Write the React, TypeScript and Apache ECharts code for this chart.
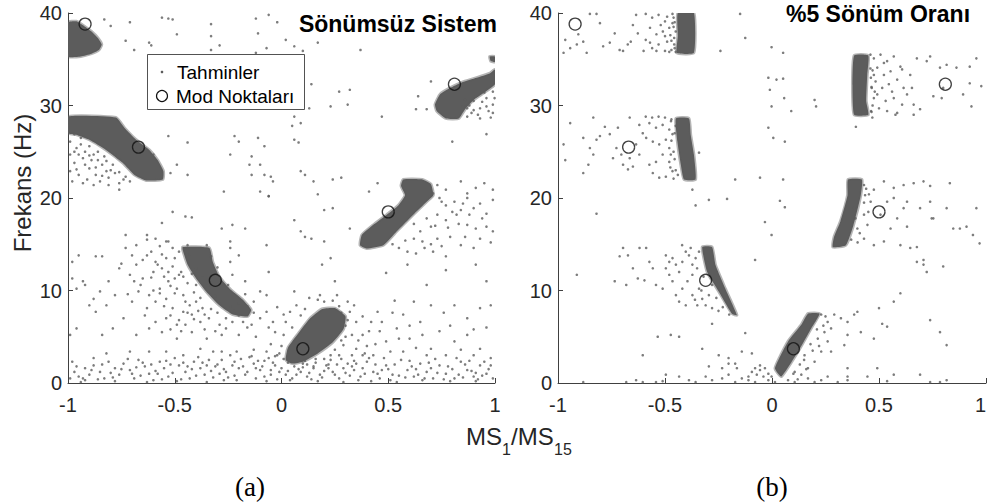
import React, { useEffect, useRef } from "react";
import * as echarts from "echarts";

// ---------- Data ----------
const xTicks = [-1, -0.5, 0, 0.5, 1];
const yTicks = [0, 10, 20, 30, 40];

// Mode points (same in both panels)
const modePoints: number[][] = [
  [-0.92, 38.8], [-0.67, 25.5], [0.81, 32.3], [0.5, 18.5], [-0.31, 11.1], [0.1, 3.7],
];

// Left panel (undamped) – dense clusters (outline of solid point clouds)
const leftBlobA = [[-1, 39.0], [-0.96, 39.1], [-0.925, 38.6], [-0.89, 38.0], [-0.86, 37.3], [-0.842, 36.6], [-0.855, 36.0], [-0.89, 35.6], [-0.94, 35.3], [-1, 35.3]];
const leftBlobB = [[-1, 28.8], [-0.775, 28.7], [-0.736, 27.6], [-0.681, 26.3], [-0.619, 25.2], [-0.58, 24.1], [-0.553, 22.9], [-0.556, 22.0], [-0.634, 21.9], [-0.689, 22.5], [-0.744, 23.8], [-0.822, 25.2], [-0.9, 26.3], [-0.962, 26.85], [-1, 27.0]];
const leftBlobC = [[0.719, 30.1], [0.742, 31.2], [0.789, 31.9], [0.844, 32.5], [0.914, 33.0], [0.977, 33.5], [1, 33.9], [1, 32.3], [0.95, 31.4], [0.9, 30.6], [0.86, 29.6], [0.83, 28.6], [0.77, 28.6], [0.727, 29.4]];
const leftBlobC2 = [[0.975, 35.3], [1, 35.3], [1, 34.7], [0.98, 34.8]];
const leftBlobD = [[0.368, 14.9], [0.376, 16.0], [0.43, 17.1], [0.493, 18.2], [0.547, 19.2], [0.579, 20.3], [0.56, 21.3], [0.57, 22.0], [0.66, 22.0], [0.7, 21.5], [0.711, 20.3], [0.68, 19.6], [0.617, 18.2], [0.54, 16.4], [0.477, 14.9], [0.399, 14.55]];
const leftBlobE = [[-0.463, 14.7], [-0.338, 14.6], [-0.322, 13.1], [-0.291, 11.5], [-0.236, 10.05], [-0.181, 9.0], [-0.142, 7.9], [-0.158, 7.2], [-0.228, 7.4], [-0.291, 8.4], [-0.353, 9.9], [-0.4, 11.3], [-0.439, 12.75], [-0.463, 14.4]];
const leftBlobF = [[0.02, 2.5], [0.03, 3.8], [0.08, 5.4], [0.13, 6.9], [0.19, 8.0], [0.25, 8.1], [0.3, 7.2], [0.29, 5.8], [0.24, 4.4], [0.17, 3.2], [0.1, 2.3], [0.05, 2.1]];

// Left panel – scattered estimates
const leftTopPts = [[-0.83,39.3],[-0.8,38.6],[-0.71,39.0],[-0.73,37.0],[-0.69,36.0],[-0.62,36.8],[-0.61,36.5],[-0.56,39.5],[-0.53,39.4],[-0.51,39.3],[-0.49,37.7],[-0.33,38.8],[-0.33,37.5],[-0.33,36.0],[-0.29,36.5],[-0.11,37.8],[-0.12,39.4],[-0.06,39.8],[-0.02,39.0],[-0.07,36.2],[-0.12,35.7],
[0.02,37.1],[0.06,36.4],[0.1,35.9],[0.17,36.8],[0.37,36.0],[0.14,32.3],[0.27,31.5],[0.32,31.7],[0.31,30.1],[0.23,29.9],[0.13,29.7],[0.47,28.8],[0.06,28.8],[0.09,28.1],[0.05,27.8],[0.06,26.3],[0.08,26.0],[0.64,31.0],[0.7,32.6],[0.63,29.6],[0.68,29.6],[0.8,26.1],[0.96,26.9],[0.09,22.9],[0.11,22.5],[0.15,21.8],[0.24,22.0],[0.28,22.2],[0.45,21.6],[0.41,20.7],[0.17,20.4]];
const leftBPts = [[-0.99,26.1],[-0.96,25.4],[-0.99,24.7],[-0.94,25.8],[-0.92,25.0],[-0.97,23.8],[-0.93,24.3],[-0.88,24.7],[-0.86,24.1],[-0.9,23.2],[-0.95,22.5],[-0.98,21.8],[-0.87,22.5],[-0.84,23.6],[-0.82,22.9],[-0.85,21.8],[-0.81,22.2],[-0.79,23.6],[-0.78,22.7],[-0.76,21.6],[-0.91,22.0],[-0.88,21.4],[-0.73,22.3],[-0.83,24.5],[-0.78,24.7],[-0.95,24.7],[-0.92,23.6],[-0.99,22.9],[-0.89,24.1],[-0.81,21.4],
[-0.97,26.9],[-0.94,26.5],[-0.9,25.6],[-0.86,25.0],[-0.82,24.0],[-0.8,23.0],[-0.76,22.8],[-0.74,22.0],[-0.71,21.8],[-0.96,23.1],[-0.93,21.6],[-0.87,23.3],[-0.84,22.4],[-0.9,24.6],[-0.97,25.0],
[-0.53,26.7],[-0.44,26.0],[-0.6,24.7],[-0.49,23.6],[-0.52,22.7],[-0.44,22.5],[-0.24,24.7],[-0.22,26.7],[-0.2,26.1],[-0.11,26.5],[-0.08,25.6],[-0.14,24.5],[-0.15,23.6],[-0.1,23.6],[-0.14,22.5],[-0.08,22.5],[-0.05,22.3],[-0.04,21.8],[-0.27,20.7],[-0.1,20.7],[-0.06,20.2],[-0.76,20.9]];
const leftCPts = [[0.87,29.7],[0.9,30.5],[0.93,29.7],[0.96,30.8],[0.99,30.1],[0.92,29.0],[0.97,29.4],[0.89,29.2],[0.95,31.4],[0.99,31.5],[0.87,28.8],[0.91,31.0],[0.85,29.9],[0.98,28.7],[0.998,30.8],
[0.88,30.0],[0.94,30.4],[0.9,29.5],[0.96,29.9],[0.82,28.7],[0.86,30.6],[0.99,29.2],[0.93,28.6]];
const leftDPts = [[0.74,20.0],[0.77,19.2],[0.81,19.6],[0.84,18.7],[0.87,20.0],[0.9,18.9],[0.93,19.4],[0.96,18.3],[0.99,19.8],[0.73,18.2],[0.77,17.6],[0.82,18.2],[0.87,17.1],[0.91,16.7],[0.96,16.9],[0.99,16.4],[0.7,16.9],[0.65,16.4],[0.62,15.6],[0.66,15.3],[0.73,15.6],[0.79,15.8],[0.84,14.9],[0.9,14.6],[0.93,15.6],[0.59,14.2],[0.63,14.0],[0.71,14.2],[0.77,13.7],[0.59,12.8],[0.77,12.2],[0.91,12.8],[0.96,11.0],[0.68,10.6],[0.49,11.9],[0.23,13.5],[0.2,15.3],[0.11,15.8],[0.09,16.4],[0.06,17.6],[0.14,15.6],[0.19,12.8],[0.25,11.0],[0.32,16.7],[0.24,18.9],[0.2,18.7],[0.06,9.9],
[0.73,21.4],[0.77,20.9],[0.84,21.8],[0.87,20.5],[0.91,21.1],[0.95,21.6],[0.99,20.9],[0.71,20.5],
[0.75,19.6],[0.8,18.5],[0.85,19.4],[0.78,16.8],[0.83,17.2],[0.88,18.2],[0.72,17.0],[0.68,17.8],[0.7,15.0],[0.75,14.8],[0.86,15.8],[0.94,17.8],[0.98,15.2],[0.67,14.6],[0.62,17.2],[0.58,15.4],[0.55,14.6],[0.52,15.0]];
const leftFPts = [[0.01,5.2],[0.02,6.6],[0.04,7.7],[0.07,8.4],[0.13,9.2],[0.18,9.5],[0.26,9.5],[0.31,8.8],[0.32,7.7],[0.35,6.6],[0.33,5.2],[0.29,4.1],[0.27,3.0],[0.35,3.7],[0.38,5.2],[0.42,6.6],[0.45,7.7],[0.46,5.6],[0.49,4.5],[0.54,5.9],[0.57,7.4],[0.43,3.0],[0.51,3.4],[0.6,4.8],[0.65,6.6],[0.7,8.4],[0.81,8.4],[0.87,7.0],[0.93,8.1],[0.98,8.4],[0.74,5.6],[0.81,4.5],[0.87,5.2],[0.93,3.7],[0.7,3.7],
[0.0,4.0],[0.05,6.0],[0.09,7.3],[0.2,8.8],[0.24,8.9],[0.3,6.2],[0.3,5.0],[0.25,3.6],[0.2,2.6],[0.12,2.0],[0.03,2.2],[-0.02,3.0],[0.36,4.6],[0.39,3.2],[0.28,7.6],[0.33,3.0],[0.4,4.0],[0.15,1.8],[0.22,2.0],[0.34,2.4],
[0.27,8.3],[0.31,6.8],[0.28,4.6],[0.23,3.0],[0.16,2.6],[0.11,8.0],[0.17,9.0],[0.34,8.4],[0.38,7.2],[0.41,5.6],[0.44,4.2],[0.47,6.6],[0.52,7.6],[0.55,4.8],[0.6,6.2],[0.63,3.8],[0.66,5.2],[0.76,7.6],[0.79,6.2],[0.84,3.6],[0.9,5.8],[0.96,6.0],[0.62,8.8],[0.53,8.9],[-0.03,5.5],[-0.05,4.2],[0.01,7.4]];
const leftBottomPts = [[0.0,1.6],[0.02,0.9],[0.06,1.8],[0.09,1.2],[0.12,0.7],[0.15,1.6],[0.18,0.9],[0.21,1.9],[0.24,1.2],[0.27,0.5],[0.31,2.1],[0.34,1.4],[0.37,0.7],[0.4,2.3],[0.43,1.2],[0.46,0.5],[0.49,1.9],[0.52,0.9],[0.56,2.5],[0.59,1.4],[0.62,0.7],[0.65,2.1],[0.68,1.2],[0.71,0.5],[0.74,1.9],[0.77,1.0],[0.81,0.5],[0.84,2.3],[0.87,1.4],[0.9,0.7],[0.93,1.9],[0.96,1.0],[0.99,0.5],[0.04,0.3],[0.17,0.2],[0.29,0.1],[0.42,0.2],[0.54,0.1],[0.66,0.3],[0.79,0.2],[0.91,0.2],[0.38,3.0],[0.48,2.7],[0.57,3.4],[0.68,3.0],[0.77,3.0],[0.9,3.0],[0.98,2.7],[0.23,2.5],[0.1,2.1],
[0.05,0.5],[0.08,1.5],[0.11,2.4],[0.14,0.4],[0.2,1.3],[0.26,2.0],[0.29,1.6],[0.32,0.8],[0.35,2.1],[0.39,1.0],[0.44,2.0],[0.47,1.4],[0.51,0.3],[0.53,2.0],[0.58,0.6],[0.61,1.8],[0.64,0.9],[0.7,1.6],[0.72,2.6],[0.76,0.4],[0.8,1.5],[0.83,0.9],[0.86,2.0],[0.89,1.3],[0.92,0.4],[0.95,2.3],[0.97,1.5],
[-0.99,0.5],[-0.97,1.2],[-0.95,0.7],[-0.92,1.6],[-0.9,0.9],[-0.88,1.9],[-0.85,1.2],[-0.83,0.5],[-0.81,2.3],[-0.78,1.6],[-0.76,0.9],[-0.74,2.1],[-0.71,1.4],[-0.69,0.5],[-0.67,2.5],[-0.64,1.8],[-0.62,1.0],[-0.6,0.3],[-0.57,2.3],[-0.55,1.6],[-0.53,0.7],[-0.5,2.7],[-0.48,1.9],[-0.45,1.2],[-0.43,0.5],[-0.41,2.3],[-0.38,1.6],[-0.36,0.9],[-0.34,2.5],[-0.31,1.8],[-0.29,1.0],[-0.27,0.3],[-0.24,3.0],[-0.22,2.3],[-0.2,1.6],[-0.17,0.9],[-0.15,2.8],[-0.13,2.1],[-0.1,1.4],[-0.08,0.7],[-0.06,2.7],[-0.03,1.9],[-0.01,1.2],[-0.28,3.4],[-0.21,3.4],[-0.13,3.6],[-0.07,3.4],[-0.01,3.2],[-0.54,3.4],[-0.62,3.4],[-0.88,2.7],[-0.92,0.3],[-0.78,0.2],[-0.63,0.1],[-0.49,0.2],[-0.35,0.1],[-0.21,0.3],[-0.07,0.2],[-0.94,0.1],[-0.82,3.2],[-0.98,2.3],
[-0.47,0.4],[-0.44,1.8],[-0.4,0.8],[-0.37,2.2],[-0.33,1.3],[-0.3,2.0],[-0.27,1.5],[-0.25,0.6],[-0.23,1.9],[-0.19,2.6],[-0.16,1.2],[-0.12,0.5],[-0.11,2.4],[-0.09,1.8],[-0.05,0.9],[-0.04,2.2],[-0.02,0.4],[-0.58,1.0],[-0.52,2.0],[-0.65,2.2],[-0.7,1.0],[-0.8,1.1],[-0.86,0.4],
[-0.96,1.8],[-0.93,0.5],[-0.89,1.4],[-0.84,2.0],[-0.79,0.6],[-0.75,1.5],[-0.72,2.6],[-0.68,1.7],[-0.66,0.8],[-0.61,2.0],[-0.59,1.3],[-0.56,0.4],[-0.54,2.4],[-0.51,1.1],[-0.46,2.2],[-0.42,1.5],[-0.39,2.8],[-0.35,1.9],[-0.32,0.6],[-0.28,2.5],[-0.26,1.2],[-0.22,0.8],[-0.18,1.8],[-0.14,2.9],[-0.12,1.6],[-0.08,2.4],[-0.05,1.4],[-0.03,2.9],[0.01,2.6],[0.03,1.3],[0.07,0.9],[0.1,1.7],[0.13,1.1],[0.16,2.2],[0.19,0.6],[0.22,1.6],[0.25,0.9],[0.28,2.6],[0.3,1.1],[0.33,1.8],[0.36,0.3],[0.38,1.6],[0.41,2.7],[0.45,1.0],[0.5,1.5],[0.55,0.8],[0.6,2.4],[0.63,1.5],[0.67,0.5],[0.69,2.2],[0.73,1.1],[0.78,1.8],[0.82,2.7],[0.85,0.6],[0.88,2.4],[0.91,1.1],[0.94,0.8],[0.98,1.9]];
const leftEPts = [[-0.73,14.6],[-0.68,14.9],[-0.63,15.5],[-0.59,15.6],[-0.54,15.3],[-0.51,14.6],[-0.54,13.5],[-0.59,13.1],[-0.63,13.8],[-0.68,12.8],[-0.71,11.7],[-0.65,11.3],[-0.6,12.0],[-0.56,12.4],[-0.51,12.6],[-0.48,11.7],[-0.53,11.0],[-0.57,10.2],[-0.62,9.5],[-0.67,9.9],[-0.7,8.8],[-0.63,8.1],[-0.59,8.8],[-0.54,9.1],[-0.49,10.2],[-0.46,9.5],[-0.43,8.4],[-0.4,8.8],[-0.37,8.1],[-0.42,7.4],[-0.46,7.7],[-0.51,8.1],[-0.54,7.0],[-0.59,6.6],[-0.62,5.9],[-0.56,5.5],[-0.49,6.3],[-0.45,6.3],[-0.38,6.6],[-0.34,7.0],[-0.29,6.3],[-0.23,6.6],[-0.18,6.6],[-0.14,6.3],[-0.1,7.0],[-0.07,7.7],[-0.04,6.6],[-0.2,5.2],[-0.28,5.2],[-0.35,4.8],[-0.42,5.5],[-0.49,4.8],[-0.32,3.4],[-0.38,3.7],[-0.46,3.0],[-0.76,12.4],[-0.81,11.0],[-0.85,9.9],[-0.88,9.1],[-0.78,9.5],[-0.82,8.4],[-0.87,7.7],[-0.74,7.0],[-0.79,5.9],[-0.84,5.2],[-0.92,10.6],[-0.96,10.2],[-0.98,13.1],[-0.95,13.8],[-0.87,13.7],[-0.84,13.7],[-0.93,11.0],[-0.98,11.3],[-0.9,8.4],[-0.99,5.2],[-0.96,5.9],[-0.7,13.8],[-0.73,16.0],[-0.63,16.0],[-0.53,15.3],[-0.24,14.6],[-0.2,13.8],[-0.24,13.1],[-0.07,14.9],[-0.06,12.0],[-0.17,11.0],[-0.1,9.9],[-0.07,9.5],[-0.23,11.7],[-0.28,16.7],[-0.24,15.3],[-0.17,16.7],[-0.23,17.1],[-0.51,18.5],[-0.45,18.0],[-0.42,17.9],[-0.56,17.3],[-0.06,20.2],[-0.68,5.2],[-0.71,3.4],
[-0.5,13.5],[-0.47,12.0],[-0.44,10.8],[-0.41,9.8],[-0.38,9.2],[-0.33,8.0],[-0.3,7.6],[-0.26,7.0],[-0.2,7.3],[-0.16,8.3],[-0.25,10.6],[-0.3,12.5],[-0.33,13.7],[-0.35,14.9],[-0.44,14.9],[-0.48,14.2],[-0.52,10.5],[-0.45,8.8],[-0.36,7.4],[-0.4,10.6],[-0.55,11.5],[-0.58,12.8],[-0.5,9.7],[-0.42,11.8],
[-0.66,10.6],[-0.61,11.4],[-0.57,9.7],[-0.64,7.3],[-0.6,10.0],[-0.55,8.3],[-0.52,7.3],[-0.48,6.8],[-0.44,7.6],[-0.41,6.9],[-0.39,7.8],[-0.47,5.6],[-0.52,5.8],[-0.36,5.8],[-0.31,5.6],[-0.26,5.9],[-0.22,7.8],[-0.13,7.6],[-0.72,9.6],[-0.75,12.9],[-0.69,11.0],[-0.65,13.3],[-0.61,14.2],[-0.57,14.8],[-0.46,11.5],[-0.5,11.3],[-0.53,12.0],[-0.56,13.9],[-0.43,13.9],[-0.4,12.4],[-0.37,11.4],[-0.34,10.6],[-0.31,9.4],[-0.28,8.6],[-0.24,8.3],[-0.2,8.6],[-0.17,9.6],[-0.13,8.8],[-0.16,6.0],[-0.12,5.0],[-0.06,6.0],[-0.02,8.2]];

// Right panel (5% damping) – dense clusters
const rightBlobA = [[-0.44, 40], [-0.365, 40], [-0.365, 35.7], [-0.445, 35.7], [-0.44, 37.5]];
const rightBlobB = [[-0.449, 28.6], [-0.388, 28.6], [-0.38, 26.85], [-0.365, 24.7], [-0.357, 22.0], [-0.411, 22.0], [-0.426, 23.6], [-0.442, 26.1]];
const rightBlobC = [[0.384, 35.4], [0.45, 35.4], [0.445, 33.3], [0.44, 30.5], [0.45, 29.0], [0.384, 29.0], [0.376, 32.2]];
const rightBlobD = [[0.284, 14.7], [0.345, 14.9], [0.38, 17.0], [0.415, 20.3], [0.42, 22.0], [0.355, 22.0], [0.353, 20.3], [0.32, 17.5], [0.29, 15.8]];
const rightBlobE = [[-0.326, 14.7], [-0.28, 14.7], [-0.264, 12.75], [-0.218, 10.2], [-0.164, 7.35], [-0.187, 7.5], [-0.249, 9.9], [-0.303, 12.0]];
const rightBlobF = [[0.014, 1.6], [0.044, 0.7], [0.122, 3.4], [0.183, 5.9], [0.222, 7.5], [0.168, 7.5], [0.137, 6.3], [0.075, 4.5]];

// Right panel – scattered estimates
const rightAPts = [[-0.59,39.9],[-0.56,39.5],[-0.53,39.8],[-0.5,39.1],[-0.465,39.9],[-0.57,38.4],[-0.54,37.7],[-0.51,38.0],[-0.48,38.4],[-0.457,37.3],[-0.49,36.9],[-0.53,36.6],[-0.56,36.2],[-0.59,37.1],[-0.47,36.0],[-0.5,35.9],[-0.54,35.9],[-0.6,35.9],[-0.465,38.9],[-0.5,37.5],[-0.52,38.7],[-0.57,36.8],[-0.457,36.6],[-0.635,39.8],[-0.627,37.8],[-0.66,36.9],[-0.674,36.6],[-0.712,36.0],[-0.735,37.8],[-0.758,36.8],[-0.789,36.4],[-0.804,38.9],[-0.82,39.9],[-0.851,39.9],[-0.882,36.9],[-0.912,36.6],[-0.943,36.2],[-0.974,35.7],[-0.966,37.1],[-0.905,37.7],[-0.866,35.7],[-0.65,38.7],[-0.696,35.9],
[-0.45,38.0],[-0.455,36.2],[-0.46,39.5],[-0.47,37.0],[-0.45,35.8],[-0.48,35.8],[-0.455,39.0],[-0.46,38.5],[-0.475,37.6],[-0.49,39.6],
[-0.149,39.9],[-0.125,37.3],[-0.241,35.9],[-0.002,36.3],[0.052,35.7],[-0.017,33.0],[0.021,32.8],[0.052,32.9],[-0.01,31.7],[-0.002,29.9],[0.057,30.8],[0.09,29.4],[0.199,30.6],[0.206,29.9],[-0.017,27.6],[0.006,26.5],[0.06,26.1],[-0.172,22.0],[-0.056,22.2],[0.052,22.0],[0.392,27.7]];
const rightBPts = [[-0.59,28.8],[-0.56,28.7],[-0.53,28.8],[-0.5,28.7],[-0.472,28.3],[-0.573,28.1],[-0.542,27.6],[-0.511,27.9],[-0.48,27.4],[-0.465,26.9],[-0.496,26.3],[-0.527,25.8],[-0.557,26.1],[-0.588,26.5],[-0.48,25.4],[-0.511,24.7],[-0.542,23.9],[-0.573,23.6],[-0.48,23.9],[-0.465,22.9],[-0.496,22.3],[-0.527,22.2],[-0.557,22.7],[-0.473,24.7],[-0.604,27.0],[-0.62,24.7],[-0.635,25.8],[-0.665,24.3],[-0.65,23.4],[-0.696,23.6],[-0.704,24.7],[-0.727,25.4],[-0.743,24.3],[-0.758,26.9],[-0.781,27.7],[-0.804,26.7],[-0.82,26.3],[-0.835,24.7],[-0.851,25.4],[-0.882,26.5],[-0.858,23.6],[-0.882,22.7],[-0.943,28.1],[-0.974,25.8],[-0.966,24.1],[-0.835,28.7],[-0.72,27.6],[-0.673,23.1],[-0.341,24.9],[-0.372,20.9],[-0.665,28.7],[-0.62,27.9],
[-0.455,27.0],[-0.46,25.0],[-0.45,23.0],[-0.47,26.2],[-0.44,22.5],[-0.455,24.2],[-0.47,28.5],[-0.46,22.1],[-0.475,23.3],[-0.45,27.8]];
const rightCPts = [[0.476,35.1],[0.507,35.5],[0.538,34.8],[0.569,35.3],[0.492,34.1],[0.523,33.3],[0.554,33.7],[0.6,34.2],[0.484,32.6],[0.515,31.9],[0.546,32.3],[0.585,32.8],[0.615,31.9],[0.492,31.2],[0.531,30.5],[0.569,30.8],[0.608,30.1],[0.5,29.7],[0.538,29.4],[0.585,29.2],[0.662,30.1],[0.631,31.2],[0.646,33.3],[0.677,35.1],[0.723,34.8],[0.739,35.3],[0.785,34.1],[0.816,34.4],[0.862,34.1],[0.924,34.2],[0.955,35.1],[0.978,32.1],[0.924,32.4],[0.893,31.2],[0.932,29.9],[0.754,31.0],[0.793,30.8],[0.8,31.9],[0.692,29.6],[0.662,29.0],[0.469,28.7],[0.466,31.9],[0.476,30.8],[0.577,29.0],[0.523,34.6],[0.561,31.5],[0.476,33.3],[0.463,29.4],[0.608,33.9],[0.654,31.9],
[0.46,34.0],[0.465,32.0],[0.47,30.0],[0.46,35.5],[0.462,33.0],[0.465,29.3],[0.48,31.5],[0.47,33.8]];
const rightDPts = [[0.384,18.9],[0.43,18.2],[0.446,17.1],[0.43,15.6],[0.476,14.9],[0.523,15.3],[0.554,16.7],[0.585,17.8],[0.615,18.9],[0.538,19.6],[0.569,20.0],[0.631,16.9],[0.6,14.9],[0.646,14.6],[0.677,14.7],[0.399,16.7],[0.461,19.6],[0.507,18.2],[0.692,18.9],[0.739,19.6],[0.754,17.8],[0.816,18.9],[0.847,16.7],[0.878,16.7],[0.909,16.9],[0.939,16.0],[0.955,18.9],[0.97,15.1],[0.708,13.3],[0.723,12.0],[0.8,12.6],[0.746,17.8],[0.631,19.6],
[0.43,21.4],[0.476,20.9],[0.523,21.8],[0.569,21.1],[0.615,21.4],[0.662,21.6],[0.708,21.8],[0.739,21.3],[0.831,21.6],[0.453,20.4],
[0.37,15.5],[0.39,17.8],[0.43,19.5],[0.44,21.0],[0.4,15.2],[0.435,20.3],[0.41,16.2],[0.45,18.5]];
const rightEPts = [[-0.341,14.2],[-0.357,13.5],[-0.372,12.8],[-0.388,13.8],[-0.403,14.2],[-0.419,13.1],[-0.434,12.0],[-0.449,12.8],[-0.465,13.5],[-0.48,13.1],[-0.496,13.8],[-0.372,11.7],[-0.395,11.0],[-0.419,10.2],[-0.449,9.5],[-0.434,8.8],[-0.403,8.4],[-0.372,9.5],[-0.341,10.2],[-0.326,9.1],[-0.31,8.4],[-0.28,8.1],[-0.295,9.5],[-0.349,8.4],[-0.465,11.0],[-0.48,11.7],[-0.496,12.4],[-0.511,10.2],[-0.542,10.6],[-0.557,12.4],[-0.573,13.1],[-0.588,14.6],[-0.619,14.6],[-0.65,12.4],[-0.681,10.6],[-0.696,14.6],[-0.712,13.7],[-0.673,13.8],[-0.596,11.1],[-0.627,11.3],[-0.735,11.0],[-0.912,11.7],[-0.82,18.3],[-0.295,19.8],[-0.21,19.9],[-0.357,19.2],[-0.079,13.3],[-0.002,16.0],[-0.033,17.4],[0.037,19.7],[0.06,19.0],[-0.125,5.4],[-0.326,3.7],[-0.249,3.0],[-0.203,2.7],[-0.172,2.1],[-0.141,3.4],[-0.094,3.2],[-0.233,1.6],[-0.295,1.8],[-0.534,5.0],[-0.473,5.2],[-0.434,5.0],[-0.604,3.0],[-0.28,6.4],
[-0.3,13.0],[-0.32,11.5],[-0.28,10.6],[-0.26,9.2],[-0.23,8.2],[-0.35,12.4],[-0.33,10.0],[-0.31,14.4],[-0.38,14.6],[-0.42,14.9],[-0.36,9.0],[-0.25,7.8],[-0.2,7.4]];
const rightFPts = [[0.23,7.4],[0.26,6.6],[0.291,7.4],[0.322,7.0],[0.353,6.6],[0.384,7.4],[0.245,5.5],[0.276,5.9],[0.214,4.8],[0.26,4.5],[0.23,3.4],[0.199,2.3],[0.168,1.6],[0.137,0.9],[0.106,1.2],[0.152,3.0],[0.276,3.4],[0.338,4.1],[0.353,5.2],[0.399,7.7],[0.415,5.5],[0.476,4.8],[0.515,6.4],[0.538,6.1],[0.569,8.8],[0.6,9.7],[0.677,13.1],[0.708,12.8],[0.5,8.1],[0.785,5.5],[0.816,4.1],[0.739,6.8],[0.692,0.9],[0.492,1.6],[0.353,1.6],
[0.2,6.8],[0.21,5.8],[0.18,4.2],[0.15,2.5],[0.1,1.0],[0.24,6.2],[0.19,3.5],[0.16,1.5],[0.22,4.0],[0.13,2.0],[0.25,7.2],[0.12,0.4],
[-0.079,1.6],[-0.056,1.9],[-0.033,1.6],[-0.017,1.0],[-0.04,0.7],[-0.071,0.9],[-0.094,1.2],[-0.056,1.4],[-0.11,0.7],[-0.002,0.7],
[-0.31,0.7],[-0.28,0.3],[-0.233,0.5],[-0.203,0.9],[-0.172,0.1],[-0.141,0.5],[-0.11,0.3],[-0.079,0.1],[-0.017,0.3],[0.014,0.1],[0.075,0.3],[0.106,0.1],[0.168,0.5],[0.199,0.1],[0.23,0.3],[0.26,0.7],[0.307,0.1],[0.353,0.3],[-0.357,0.1],[-0.388,0.3],[-0.511,0.2],[-0.542,0.1],[-0.604,0.1],[-0.635,0.3],[-0.681,0.1],[-0.882,0.1],[0.353,0.7],[0.446,0.7],[0.538,0.2],[0.739,0.1],[0.785,0.1],[0.816,0.3],[-0.496,0.9],[-0.434,0.7],[-0.203,2.1],[-0.164,1.6],[0.569,0.9]];

const leftBlobs = [leftBlobA, leftBlobB, leftBlobC, leftBlobC2, leftBlobD, leftBlobE, leftBlobF];
const rightBlobs = [rightBlobA, rightBlobB, rightBlobC, rightBlobD, rightBlobE, rightBlobF];
const leftPts = [...leftTopPts, ...leftBPts, ...leftCPts, ...leftDPts, ...leftFPts, ...leftBottomPts, ...leftEPts];
const rightPts = [...rightAPts, ...rightBPts, ...rightCPts, ...rightDPts, ...rightEPts, ...rightFPts];

const panelTitles = ["Sönümsüz Sistem", "%5 Sönüm Oranı"];
const legendLabels = ["Tahminler", "Mod Noktaları"];
const panelTags = ["(a)", "(b)"];

const SANS = "'Liberation Sans', Arial, Helvetica, sans-serif";
const SERIF = "'Liberation Serif', 'Times New Roman', serif";
const DOT = "#5c5c5c";
const AXIS = "#404040";
const TXT = "#262626";

function blobSeries(blobs: number[][][], idx: number) {
  return {
    type: "custom",
    xAxisIndex: idx,
    yAxisIndex: idx,
    silent: true,
    clip: true,
    data: blobs.map((b) => b[0]),
    renderItem: (params: any, api: any) => {
      const poly = blobs[params.dataIndex];
      return {
        type: "polygon",
        shape: { points: poly.map((p) => api.coord(p)), smooth: 0.15 },
        style: { fill: DOT, stroke: "rgba(92,92,92,0.45)", lineWidth: 3, lineJoin: "round" },
      };
    },
    z: 2,
  };
}

export default function App() {
  const ref = useRef<HTMLDivElement>(null);
  useEffect(() => {
    if (!ref.current) return;
    const chart = echarts.init(ref.current, undefined, { renderer: "svg" });
    const xAxisBase = (gi: number) => ({
      type: "value",
      gridIndex: gi,
      min: xTicks[0],
      max: xTicks[xTicks.length - 1],
      interval: 0.5,
      axisLine: { show: true, onZero: false, lineStyle: { color: AXIS, width: 1 } },
      axisTick: { show: true, inside: true, length: 5, lineStyle: { color: AXIS } },
      axisLabel: {
        fontSize: 20, color: TXT, fontFamily: SANS, margin: 12,
        formatter: (v: number) => String(v),
        alignMaxLabel: gi === 1 ? "right" : "center",
      },
      splitLine: { show: false },
    });
    const yAxisBase = (gi: number) => ({
      type: "value",
      gridIndex: gi,
      min: yTicks[0],
      max: yTicks[yTicks.length - 1],
      interval: 10,
      axisLine: { show: true, onZero: false, lineStyle: { color: AXIS, width: 1 } },
      axisTick: { show: true, inside: true, length: 5, lineStyle: { color: AXIS } },
      axisLabel: { fontSize: 20, color: TXT, fontFamily: SANS, margin: 6 },
      splitLine: { show: false },
    });
    const scatterPts = (data: number[][], idx: number) => ({
      type: "scatter",
      name: legendLabels[0],
      xAxisIndex: idx,
      yAxisIndex: idx,
      data,
      symbol: "circle",
      symbolSize: 2.6,
      itemStyle: { color: DOT },
      silent: true,
      z: 3,
    });
    const modeSeries = (idx: number) => ({
      type: "scatter",
      name: legendLabels[1],
      xAxisIndex: idx,
      yAxisIndex: idx,
      data: modePoints,
      symbol: "circle",
      symbolSize: 12,
      itemStyle: { color: "rgba(0,0,0,0)", borderColor: "#111", borderWidth: 1.3 },
      silent: true,
      z: 5,
    });
    chart.setOption({
      animation: false,
      backgroundColor: "#fff",
      grid: [
        { left: 68, top: 13, width: 427, height: 370, outerBoundsMode: "none", containLabel: false },
        { left: 558, top: 13, width: 428, height: 370, outerBoundsMode: "none", containLabel: false },
      ],
      xAxis: [xAxisBase(0), xAxisBase(1)],
      yAxis: [yAxisBase(0), yAxisBase(1)],
      series: [
        blobSeries(leftBlobs, 0),
        scatterPts(leftPts, 0),
        modeSeries(0),
        blobSeries(rightBlobs, 1),
        scatterPts(rightPts, 1),
        modeSeries(1),
      ],
      graphic: [
        {
          type: "text", x: 497, y: 23.5, z: 10,
          style: { text: panelTitles[0], fontSize: 23, fontWeight: "bold", fontFamily: SANS, fill: "#000", align: "right", verticalAlign: "middle" },
        },
        {
          type: "text", x: 878, y: 14, z: 10,
          style: { text: panelTitles[1], fontSize: 23, fontWeight: "bold", fontFamily: SANS, fill: "#000", align: "center", verticalAlign: "middle" },
        },
        // legend box
        { type: "rect", z: 20, shape: { x: 147.5, y: 54.5, width: 157, height: 55 }, style: { fill: "#fff", stroke: "#262626", lineWidth: 0.8 } },
        { type: "circle", z: 21, shape: { cx: 162, cy: 72, r: 1.3 }, style: { fill: DOT } },
        { type: "circle", z: 21, shape: { cx: 162, cy: 96, r: 5.5 }, style: { fill: "none", stroke: "#111", lineWidth: 1.2 } },
        { type: "text", z: 21, x: 177, y: 72, style: { text: legendLabels[0], fontSize: 19, fontFamily: SANS, fill: "#000", align: "left", verticalAlign: "middle" } },
        { type: "text", z: 21, x: 176, y: 96, style: { text: legendLabels[1], fontSize: 19, fontFamily: SANS, fill: "#000", align: "left", verticalAlign: "middle" } },
        // y axis title
        {
          type: "text", x: 22, y: 183, rotation: Math.PI / 2, z: 10,
          style: { text: "Frekans (Hz)", fontSize: 24, fontFamily: SANS, fill: TXT, align: "center", verticalAlign: "middle" },
        },
        // x axis title MS1/MS15
        { type: "text", x: 466, y: 436, z: 10, style: { text: "MS", fontSize: 24, fontFamily: SANS, fill: TXT, align: "left", verticalAlign: "middle" } },
        { type: "text", x: 502, y: 449, z: 10, style: { text: "1", fontSize: 16, fontFamily: SANS, fill: TXT, align: "left", verticalAlign: "middle" } },
        { type: "text", x: 511, y: 436, z: 10, style: { text: "/MS", fontSize: 24, fontFamily: SANS, fill: TXT, align: "left", verticalAlign: "middle" } },
        { type: "text", x: 554, y: 449, z: 10, style: { text: "15", fontSize: 16, fontFamily: SANS, fill: TXT, align: "left", verticalAlign: "middle" } },
        // panel tags
        { type: "text", x: 250, y: 487, z: 10, style: { text: panelTags[0], fontSize: 27, fontFamily: SERIF, fill: "#000", align: "center", verticalAlign: "middle" } },
        { type: "text", x: 772, y: 487, z: 10, style: { text: panelTags[1], fontSize: 27, fontFamily: SERIF, fill: "#000", align: "center", verticalAlign: "middle" } },
      ],
    });
    return () => chart.dispose();
  }, []);
  return <div ref={ref} style={{ position: "fixed", left: 0, top: 0, width: 989, height: 504, background: "#fff" }} />;
}
